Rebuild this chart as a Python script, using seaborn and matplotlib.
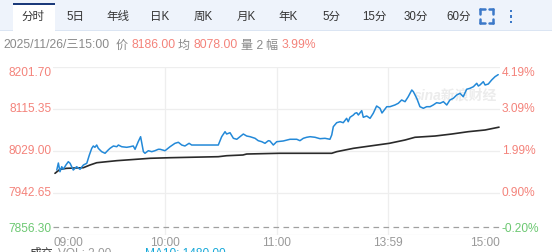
import matplotlib
matplotlib.use("Agg")
import matplotlib.pyplot as plt
import matplotlib.patches as mpatches
import matplotlib.transforms as mtransforms
import pandas as pd
import seaborn as sns

# ---------------- data ----------------
minutes = [1.9, 2.7, 3.5, 4.4, 5.2, 6.5, 7.7, 8.6, 9.4, 10.2, 11.9, 13.6, 15.3, 17.0, 18.3,
           19.5, 20.3, 21.1, 22.0, 22.8, 24.5, 26.2, 27.8, 28.7, 30.4, 32.1, 32.9, 34.6, 37.1,
           38.8, 40.4, 41.3, 42.9, 44.1, 45.5, 46.3, 48.0, 49.7, 51.3, 53.0, 53.9, 56.4, 58.9,
           61.4, 63.1, 64.8, 66.4, 68.5, 69.8, 83.2, 84.9, 86.6, 87.4, 89.1, 90.8, 92.5, 94.1,
           95.8, 97.5, 99.2, 101.7, 103.3, 105.1, 106.7, 108.4, 109.2, 110.9, 112.6, 115.9,
           119.3, 122.7, 124.3, 126.0, 127.7, 129.4, 131.9, 134.4, 136.9, 139.4, 140.3, 141.1,
           142.8, 144.5, 146.1, 147.8, 148.6, 149.5, 151.2, 152.0, 152.9, 153.7, 155.4, 156.2,
           157.9, 159.6, 161.2, 162.9, 164.6, 165.6, 168.0, 169.6, 172.1, 173.8, 175.5, 177.2,
           178.8, 180.6, 181.4, 183.1, 184.7, 186.4, 188.1, 189.8, 191.4, 193.1, 194.8, 196.5,
           198.2, 199.8, 201.5, 203.2, 204.9, 206.5, 208.2, 209.9, 211.6, 213.3, 214.1, 214.9,
           216.6, 217.5, 219.1, 220.8, 222.5, 224.1]
prices = [7989.9, 8004.3, 7986.4, 7996.7, 7991.4, 8000.2, 8007.0, 8003.7, 7996.7, 7989.9,
          7996.7, 7991.4, 8000.2, 8003.7, 8020.8, 8034.5, 8039.3, 8036.6, 8041.3, 8034.5,
          8027.6, 8024.3, 8031.1, 8034.5, 8039.3, 8037.8, 8041.3, 8037.8, 8036.6, 8037.8,
          8039.3, 8032.5, 8048.1, 8058.4, 8027.6, 8024.3, 8029.6, 8027.6, 8029.6, 8032.5,
          8032.5, 8029.6, 8037.8, 8044.8, 8046.9, 8041.3, 8039.3, 8044.8, 8041.3, 8041.3,
          8058.4, 8068.7, 8063.9, 8066.6, 8055.1, 8053.1, 8058.4, 8063.9, 8059.8, 8058.4,
          8055.1, 8050.2, 8048.1, 8044.8, 8050.2, 8049.6, 8041.3, 8048.1, 8049.6, 8053.1,
          8053.1, 8050.2, 8055.1, 8057.2, 8058.4, 8057.2, 8054.3, 8055.1, 8053.1, 8061.9,
          8079.0, 8087.2, 8089.2, 8087.2, 8096.2, 8089.2, 8098.3, 8103.0, 8106.5, 8107.7,
          8103.0, 8111.9, 8098.3, 8101.0, 8096.2, 8106.5, 8121.5, 8116.8, 8107.1, 8120.1,
          8120.1, 8123.6, 8127.1, 8133.9, 8130.4, 8140.6, 8154.4, 8150.9, 8137.3, 8120.1,
          8116.8, 8120.1, 8120.1, 8123.6, 8128.3, 8127.1, 8130.4, 8123.6, 8133.9, 8137.3,
          8144.1, 8147.6, 8140.6, 8155.9, 8157.9, 8161.2, 8168.2, 8162.6, 8164.7, 8171.5,
          8164.7, 8166.7, 8175.0, 8181.8, 8186.0]

avg_minutes = [1.0, 3.5, 6.9, 15.3, 18.6, 22.0, 27.0, 32.1, 43.8, 48.8, 58.9, 83.2, 87.4,
               95.6, 97.5, 113.9, 140.3, 142.8, 151.2, 159.6, 169.3, 177.2, 182.2, 192.3,
               200.7, 209.0, 217.5, 224.5]
avg_prices = [7983.1, 7991.4, 7993.4, 7994.7, 8000.2, 8004.9, 8007.0, 8009.1, 8012.5, 8014.0,
              8015.2, 8017.3, 8019.3, 8020.8, 8022.8, 8024.3, 8024.3, 8027.6, 8034.5, 8039.3,
              8044.8, 8051.6, 8057.2, 8059.8, 8063.9, 8068.7, 8072.2, 8078.0]

prev_close = 7872.0
price_ticks = [7856.30, 7942.65, 8029.00, 8115.35, 8201.70]
pct_labels = ["-0.20%", "0.90%", "1.99%", "3.09%", "4.19%"]
time_labels = ["09:00", "10:00", "11:00", "13:59", "15:00"]
time_ticks = [0, 56.25, 112.5, 168.75, 225]

tabs = ["分时", "5日", "年线", "日K", "周K", "月K", "年K", "5分", "15分", "30分", "60分"]
tab_x = [33, 75, 118, 160, 203, 246, 288, 331, 374, 416, 459]

# ---------------- style ----------------
sns.set_theme(style="white")
plt.rcParams["font.family"] = ["Liberation Sans", "Noto Sans CJK SC", "DejaVu Sans"]

W, H = 552, 252
fig = plt.figure(figsize=(W / 100, H / 100), dpi=100)
fig.patch.set_facecolor("white")

def fx(px):
    return px / W

def fy(py):
    return 1 - py / H

RED = "#f4837b"
GREEN = "#6cc872"
GRAY = "#999999"

# header tab bar
fig.patches.append(mpatches.Rectangle((0, fy(30)), 1, 30 / H, transform=fig.transFigure,
                                      facecolor="#eef3fb", edgecolor="none", zorder=0))
fig.patches.append(mpatches.Rectangle((0, fy(31)), 1, 1 / H, transform=fig.transFigure,
                                      facecolor="#dbe5f3", edgecolor="none", zorder=1))
fig.patches.append(mpatches.Rectangle((fx(13), fy(31)), fx(42), 28 / H, transform=fig.transFigure,
                                      facecolor="white", edgecolor="none", zorder=1))
fig.patches.append(mpatches.Rectangle((fx(13), fy(5)), fx(42), 2 / H, transform=fig.transFigure,
                                      facecolor="#1b3a7a", edgecolor="none", zorder=2))
for t, x in zip(tabs, tab_x):
    fig.text(fx(x), fy(17), t, ha="center", va="center", fontsize=8.3, color="#333333", zorder=3)

# fullscreen icon
icol = "#3b78c8"
for (cx, cy, dx, dy) in [(480, 9, 1, 1), (493, 9, -1, 1), (480, 23, 1, -1), (493, 23, -1, -1)]:
    fig.add_artist(plt.Line2D([fx(cx), fx(cx)], [fy(cy), fy(cy + 4.5 * dy)], color=icol, lw=1.8,
                              transform=fig.transFigure))
    fig.add_artist(plt.Line2D([fx(cx), fx(cx + 4.5 * dx)], [fy(cy), fy(cy)], color=icol, lw=1.8,
                              transform=fig.transFigure))
for cy in [11, 16.5, 22]:
    fig.patches.append(mpatches.Rectangle((fx(510), fy(cy + 1.2)), 2.4 / W, 2.4 / H,
                                          transform=fig.transFigure, facecolor=icol,
                                          edgecolor="none"))

# info line
info = [(3, "2025/11/26/三15:00", "#8a8a8a"), (116, "价", "#8a8a8a"), (131, "8186.00", RED),
        (178, "均", "#8a8a8a"), (193, "8078.00", RED), (241, "量 2", "#8a8a8a"),
        (265, "幅", "#8a8a8a"), (282, "3.99%", RED)]
for x, t, c in info:
    fig.text(fx(x), fy(45.5), t, ha="left", va="center", fontsize=8.7, color=c)

# ---------------- chart ----------------
x0, x1, y0, y1 = 53, 500, 67, 235
ax = fig.add_axes([fx(x0), fy(y1), (x1 - x0) / W, (y1 - y0) / H])
ax.set_facecolor("none")
for s in ax.spines.values():
    s.set_visible(False)
ax.set_xlim(0, 225)
ax.set_ylim(price_ticks[0], price_ticks[-1])
ax.set_xticks([])
ax.set_yticks([])

for v in price_ticks:
    ax.axhline(v, color="#eeeeee", lw=0.9, zorder=0)
for v in time_ticks[1:-1]:
    ax.axvline(v, color="#eeeeee", lw=0.9, zorder=0)
ax.axhline(prev_close, color="#a0a0a0", lw=0.9, ls=(0, (4.5, 3.5)), zorder=1, clip_on=False)

# watermark
ax.text(0.9, 0.83, "sina新浪财经", transform=ax.transAxes, ha="center", va="center",
        fontsize=10, color="#ececec", fontstyle="italic", fontweight="bold", zorder=0)

df_p = pd.DataFrame({"m": minutes, "v": prices})
df_a = pd.DataFrame({"m": avg_minutes, "v": avg_prices})
sns.lineplot(data=df_a, x="m", y="v", ax=ax, color="#2a2a2a", lw=1.2, estimator=None, sort=False)
sns.lineplot(data=df_p, x="m", y="v", ax=ax, color="#2389d8", lw=1.1, estimator=None, sort=False)
ax.set_xlabel("")
ax.set_ylabel("")
ax.set_xlim(0, 225)
ax.set_ylim(price_ticks[0], price_ticks[-1])

trL = mtransforms.blended_transform_factory(ax.transAxes, ax.transData)
n = len(price_ticks)
for i, (v, pl) in enumerate(zip(price_ticks, pct_labels)):
    va = "top" if i == n - 1 else ("bottom" if i == 0 else "center")
    col = GREEN if i == 0 else RED
    ax.text(-0.004, v, f"{v:.2f}", transform=trL, ha="right", va=va, fontsize=8.6, color=col)
    ax.text(1.004, v, pl, transform=trL, ha="left", va=va, fontsize=8.6, color=col)

trB = mtransforms.blended_transform_factory(ax.transData, fig.transFigure)
for i, (t, lab) in enumerate(zip(time_ticks, time_labels)):
    ha = "left" if i == 0 else ("right" if i == len(time_ticks) - 1 else "center")
    ax.text(t, fy(243), lab, transform=trB, ha=ha, va="center", fontsize=8.6, color=GRAY)

# partially visible volume legend at the bottom edge (cut off as in the reference)
fig.text(fx(30), fy(248), "成交", ha="left", va="top", fontsize=8.6, color="#333333")
fig.text(fx(58), fy(248), "VOL: 2.00", ha="left", va="top", fontsize=8.6, color=GRAY)
fig.text(fx(145), fy(248), "MA10: 1480.00", ha="left", va="top", fontsize=8.6, color="#16a8d8")

fig.savefig("out.png", dpi=100, facecolor="white")
